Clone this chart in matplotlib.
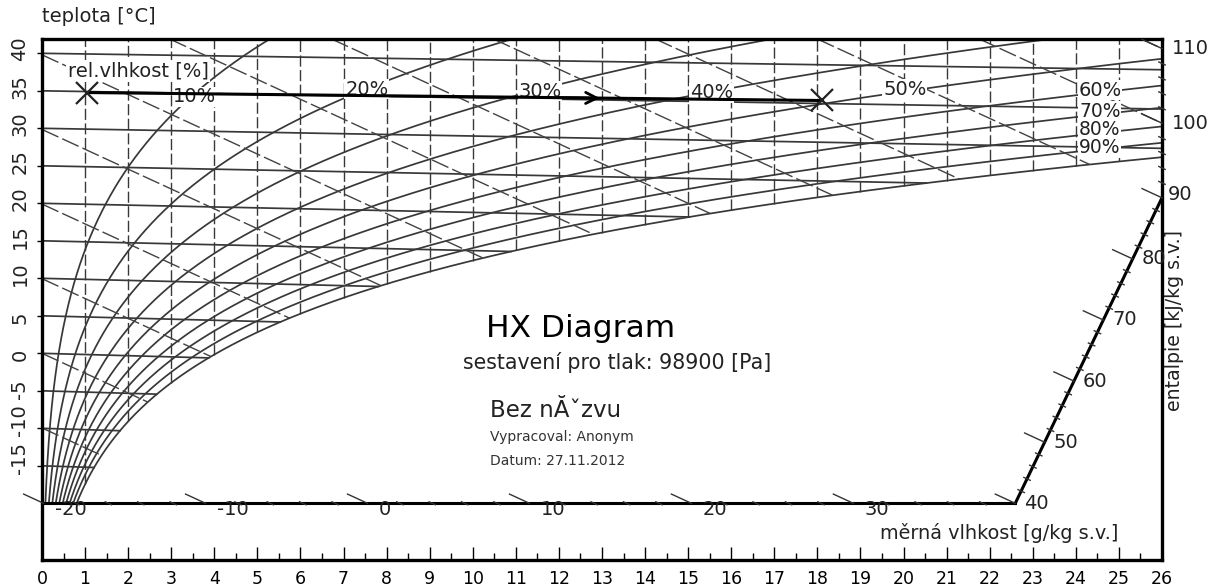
import numpy as np
import matplotlib
matplotlib.use('Agg')
import matplotlib.pyplot as plt

plt.rcParams['font.family'] = ['DejaVu Sans']

# Parametry diagramu
p_tlak = 98900.0      # tlak [Pa]
K = 2.66              # zkoseni osy entalpie [kJ/kg na g/kg]
cp = 1.005

x_lim = [0, 26]
y_lim = [-27.56, 41.91]

rh_levels = [10, 20, 30, 40, 50, 60, 70, 80, 90, 100]
rh_label_x = [3.55, 7.54, 11.56, 15.55, 20.03, 24.56, 24.56, 24.56, 24.56]
rh_label_y = [34.2, 35.24, 34.97, 34.71, 35.24, 35.1, 32.25, 29.8, 27.4]
rh_label_size = [14, 14, 14, 14, 14, 14, 13.5, 13.5, 13.5]
isotherms = [-15, -10, -5, 0, 5, 10, 15, 20, 25, 30, 35, 40]
temp_ticks = [40, 35, 30, 25, 20, 15, 10, 5, 0, -5, -10, -15]
enthalpy_lines = [-10, 0, 10, 20, 30, 40, 50, 60, 70, 80, 90, 100, 110]
enthalpy_labels = [-20, -10, 0, 10, 20, 30, 40, 50, 60, 70, 80, 90, 100, 110]
h_start, h_knee, h_end, h_top = -20, 40, 90, 110
moist_grid = list(range(1, 26))
x_ticks = list(range(0, 27))

# proces (dva stavy vzduchu)
proces_x = [1.045, 18.11]
proces_y = [34.77, 33.71]
arrow_x = 12.95

line_col = '#383838'


def p_sat(t):
    return 611.2 * np.exp(17.62 * t / (243.12 + t))


def vlhkost(t, phi):
    pv = phi * p_sat(t)
    return 622.0 * pv / (p_tlak - pv)


def entalpie(t, x):
    return cp * t + x * (2.501 + 0.00186 * t)


def to_y(x, h):
    return (h - K * x) / cp


def t_sat_of_x(x):
    ps = p_tlak * x / (622.0 + x)
    a = np.log(ps / 611.2)
    return 243.12 * a / (17.62 - a)


fig = plt.figure(figsize=(12.11, 5.88), dpi=100)
ax = fig.add_axes([42 / 1211, 28 / 588, 1120 / 1211, 521 / 588])
ax.set_xlim(x_lim)
ax.set_ylim(y_lim)

# pixel scale of the axes
sx = 1120 / (x_lim[1] - x_lim[0])
sy = 521 / (y_lim[1] - y_lim[0])
L1 = np.hypot(sx, sy * K / cp)

# saturation lookup
t_grid = np.linspace(-25, 45, 7001)
x_grid = vlhkost(t_grid, 1.0)
h_grid = entalpie(t_grid, x_grid)

# relative humidity curves
t_rh = np.linspace(-20, 60, 1200)
for phi in rh_levels:
    xs = vlhkost(t_rh, phi / 100)
    ys = to_y(xs, entalpie(t_rh, xs))
    ok = xs < 28
    ax.plot(xs[ok], ys[ok], color=line_col, lw=1.25, zorder=2)

# isotherms
for t in isotherms:
    xe = min(vlhkost(t, 1.0), x_lim[1])
    xx = np.array([0, xe])
    ax.plot(xx, to_y(xx, entalpie(t, xx)), color=line_col, lw=1.25, zorder=2)

# vertical lines of constant moisture
for xv in moist_grid:
    ts = t_sat_of_x(xv)
    yb = to_y(xv, entalpie(ts, xv))
    ax.plot([xv, xv], [yb, y_lim[1]], color=line_col, lw=1.0,
            ls=(0, (8, 2.5)), zorder=2)

# enthalpy lines
for h in enthalpy_lines:
    xs0 = max(0.0, (h - cp * y_lim[1]) / K)
    ts = np.interp(h, h_grid, t_grid)
    xe = min(vlhkost(ts, 1.0), x_lim[1])
    xx = np.array([xs0, xe])
    ax.plot(xx, to_y(xx, h), color='#424242', lw=1.0, ls=(0, (13, 3)), zorder=2)

# enthalpy scale
xa = (h_knee + 20 * cp) / K
yb_end = (h_end - 26 * K) / cp
ax.plot([0, xa], [-20, -20], color='black', lw=2.2, clip_on=False, zorder=3)
ax.plot([xa, 26], [-20, yb_end], color='black', lw=2.2, clip_on=False, zorder=3)


def scale_point(h):
    if h <= h_knee:
        return (h + 20 * cp) / K, -20.0
    if h <= h_end:
        s = (h - h_knee) / (h_end - h_knee)
        return xa + s * (26 - xa), -20 + s * (yb_end + 20)
    return 26.0, (h - 26 * K) / cp


for h in range(h_start, h_top + 1, 2):
    px, py = scale_point(h)
    if h % 10 == 0:
        d = 22 / L1
        ax.plot([px, px - d], [py, py + d * K / cp], color='#333333', lw=1.0,
                clip_on=False, zorder=3)
    else:
        d = 3.5 / L1
        ax.plot([px + d, px - d], [py - d * K / cp, py + d * K / cp],
                color='#333333', lw=1.0, clip_on=False, zorder=3)

for h in enthalpy_labels:
    px, py = scale_point(h)
    if h < h_knee:
        off = (11, -6)
    elif h < h_end:
        off = (9, 0)
    elif h == h_end:
        off = (6, 3)
    else:
        off = (10, 0)
    ax.annotate(str(h), (px, py), xytext=(off[0] * 0.72, off[1] * 0.72),
                textcoords='offset points', ha='left', va='center',
                fontsize=14, color='#222222', zorder=4)

# labels of relative humidity
for v, lx, ly, fs in zip(rh_levels, rh_label_x, rh_label_y, rh_label_size):
    ax.text(lx, ly, f'{v}%', ha='center', va='center', fontsize=fs,
            color='#222222', zorder=5,
            bbox=dict(facecolor='white', edgecolor='none', pad=0.6))
ax.text(0.60, 37.64, 'rel.vlhkost [%]', ha='left', va='center', fontsize=14,
        color='#222222', zorder=5,
        bbox=dict(facecolor='white', edgecolor='none', pad=1.0))

# process line
ax.plot(proces_x, proces_y, color='black', lw=2.2, zorder=6)
ax.plot(proces_x, proces_y, 'x', ms=16, mew=1.6, color='#222222', zorder=6)
ay = np.interp(arrow_x, proces_x, proces_y)
ay0 = np.interp(arrow_x - 1, proces_x, proces_y)
ax.annotate('', xy=(arrow_x, ay), xytext=(arrow_x - 1, ay0),
            arrowprops=dict(arrowstyle='->', color='black', lw=2.0,
                            mutation_scale=20, shrinkA=0, shrinkB=0),
            zorder=6)

# centre texts
ax.text(12.51, 3.37, 'HX Diagram', ha='center', va='center', fontsize=22.5)
ax.text(13.35, -1.16, 'sestavení pro tlak: 98900 [Pa]', ha='center',
        va='center', fontsize=14.8, color='#222222')
ax.text(10.40, -7.56, 'Bez nĂˇzvu', ha='left', va='center', fontsize=16.5,
        color='#222222')
ax.text(10.40, -11.16, 'Vypracoval: Anonym', ha='left', va='center',
        fontsize=10, color='#333333')
ax.text(10.40, -14.36, 'Datum: 27.11.2012', ha='left', va='center',
        fontsize=10, color='#333333')
ax.text(19.45, -23.96, 'měrná vlhkost [g/kg s.v.]', ha='left', va='center',
        fontsize=13.9, color='#222222')

# axes frame and ticks
for sp in ax.spines.values():
    sp.set_linewidth(2.4)
    sp.set_color('black')

ax.set_xticks(x_ticks)
ax.set_xticklabels([str(v) for v in x_ticks], fontsize=12.5)
ax.set_xticks(np.arange(0.5, 26, 1.0), minor=True)
ax.tick_params(axis='x', which='major', direction='in', length=9.4, width=1.0,
               pad=7)
ax.tick_params(axis='x', which='minor', direction='in', length=5, width=1.0)
ax.set_yticks(temp_ticks)
ax.tick_params(axis='y', which='major', direction='out', length=3.6, width=1.0,
               labelleft=False)

for t in temp_ticks:
    ax.annotate(str(t), (0, t), xytext=(-22 * 0.72, -8 * 0.72),
                textcoords='offset points', rotation=90,
                rotation_mode='anchor', ha='left', va='center', fontsize=14,
                color='#222222')

fig.text(42 / 1211, 1 - 17 / 588, 'teplota [°C]', ha='left', va='center',
         fontsize=14, color='#222222')
fig.text(1175 / 1211, 1 - 320 / 588, 'entalpie [kJ/kg s.v.]', rotation=90,
         ha='center', va='center', fontsize=13.6, color='#222222')

fig.savefig('out.png', dpi=100, facecolor='white')
